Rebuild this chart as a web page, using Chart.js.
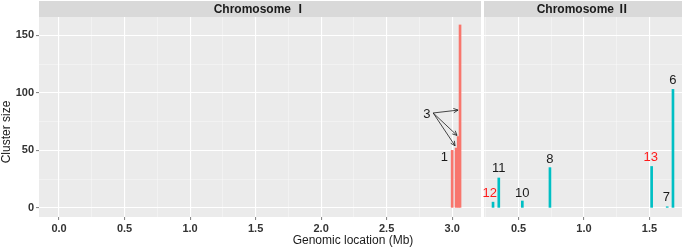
<!DOCTYPE html>
<html>
<head>
<meta charset="utf-8">
<script src="https://cdn.jsdelivr.net/npm/chart.js@4/dist/chart.umd.min.js"></script>
<style>
  body { margin: 0; background: #fff; }
  #wrap { position: relative; width: 685px; height: 249px; }
  canvas { position: absolute; top: 0; }
</style>
</head>
<body>
<div id="wrap">
  <canvas id="chr1Chart" width="482" height="249" style="left:0"></canvas>
  <canvas id="chr2Chart" width="203" height="249" style="left:482px"></canvas>
</div>
<script>
// chromosome I clusters (position in Mb, cluster size)
var chr1Pos = [3.00, 3.03, 3.046, 3.06];
var chr1Size = [50, 52, 62, 159];
// chromosome II clusters
var chr2Pos = [0.305, 0.349, 0.529, 0.740, 1.517, 1.636, 1.680];
var chr2Size = [5, 26, 6, 35, 36, 1, 103];

// cluster number labels (x in Mb, y in cluster size units)
var chr1Labels = ["1", "3"];
var chr1LabelX = [2.94, 2.806];
var chr1LabelY = [44, 81.5];
var chr1LabelColor = ["#1a1a1a", "#1a1a1a"];
var chr2Labels = ["12", "11", "10", "8", "13", "7", "6"];
var chr2LabelX = [0.28, 0.349, 0.529, 0.740, 1.510, 1.630, 1.680];
var chr2LabelY = [13, 34, 13, 42, 44, 9, 111];
var chr2LabelColor = ["#ff1a1a", "#1a1a1a", "#1a1a1a", "#1a1a1a", "#ff1a1a", "#1a1a1a", "#1a1a1a"];

// arrows from label "3" to its three bars
var arrowFrom = [2.855, 82.5];
var arrowToX = [3.045, 3.037, 3.022];
var arrowToY = [85, 63, 54];

var chr1Ticks = [0, 0.25, 0.5, 0.75, 1, 1.25, 1.5, 1.75, 2, 2.25, 2.5, 2.75, 3];
var chr2Ticks = [0.25, 0.5, 0.75, 1, 1.25, 1.5];
var yTicks = [0, 25, 50, 75, 100, 125, 150];

var red = "#F8766D";
var teal = "#00BFC4";
var FONT = "'Liberation Sans', Arial, 'Noto Sans CJK SC', sans-serif";

function isMajor(v, step) {
  return Math.abs(v / step - Math.round(v / step)) < 1e-6;
}

var panelPlugin = {
  id: "panel",
  beforeDraw: function(chart) {
    var a = chart.chartArea, ctx = chart.ctx;
    ctx.save();
    ctx.fillStyle = "#EBEBEB";
    ctx.fillRect(a.left, a.top, a.right - a.left, a.bottom - a.top);
    // strip
    ctx.fillStyle = "#D9D9D9";
    ctx.fillRect(a.left, 1, a.right - a.left, a.top - 1);
    ctx.fillStyle = "#1a1a1a";
    ctx.font = "bold 12px " + FONT;
    ctx.textAlign = "center";
    ctx.textBaseline = "middle";
    ctx.fillText(chart.options.plugins.panel.strip, (a.left + a.right) / 2, 9.5);
    ctx.restore();
  },
  afterDatasetsDraw: function(chart) {
    var o = chart.options.plugins.panel;
    var xs = chart.scales.x, ys = chart.scales.y, ctx = chart.ctx;
    ctx.save();
    ctx.font = "13px " + FONT;
    ctx.textAlign = "center";
    ctx.textBaseline = "middle";
    for (var i = 0; i < o.labels.length; i++) {
      ctx.fillStyle = o.labelColor[i];
      ctx.fillText(o.labels[i], xs.getPixelForValue(o.labelX[i]), ys.getPixelForValue(o.labelY[i]));
    }
    if (o.arrows) {
      ctx.strokeStyle = "#1a1a1a";
      ctx.lineWidth = 0.8;
      var x0 = xs.getPixelForValue(arrowFrom[0]), y0 = ys.getPixelForValue(arrowFrom[1]);
      for (var j = 0; j < arrowToX.length; j++) {
        var x1 = xs.getPixelForValue(arrowToX[j]), y1 = ys.getPixelForValue(arrowToY[j]);
        var ang = Math.atan2(y1 - y0, x1 - x0);
        ctx.beginPath();
        ctx.moveTo(x0, y0);
        ctx.lineTo(x1, y1);
        ctx.moveTo(x1 - 5 * Math.cos(ang - 0.45), y1 - 5 * Math.sin(ang - 0.45));
        ctx.lineTo(x1, y1);
        ctx.lineTo(x1 - 5 * Math.cos(ang + 0.45), y1 - 5 * Math.sin(ang + 0.45));
        ctx.stroke();
      }
    }
    if (o.titles) {
      ctx.fillStyle = "#1a1a1a";
      ctx.font = "12px " + FONT;
      ctx.fillText("Genomic location (Mb)", 353, 241);
      ctx.translate(7, 132);
      ctx.rotate(-Math.PI / 2);
      ctx.fillText("Cluster size", 0, 0);
    }
    ctx.restore();
  }
};

function makeChart(id, pos, size, color, xmin, xmax, xticks, showY, panelOpts, padding) {
  var pts = [];
  for (var i = 0; i < pos.length; i++) pts.push({ x: pos[i], y: size[i] });
  return new Chart(document.getElementById(id), {
    type: "bar",
    data: {
      datasets: [{
        data: pts,
        backgroundColor: color,
        barThickness: 2,
        borderWidth: 0
      }]
    },
    options: {
      responsive: false,
      animation: false,
      devicePixelRatio: 1,
      layout: { padding: padding },
      plugins: {
        legend: { display: false },
        tooltip: { enabled: false },
        panel: panelOpts
      },
      scales: {
        x: {
          type: "linear",
          min: xmin,
          max: xmax,
          offset: false,
          afterBuildTicks: function(s) { s.ticks = xticks.map(function(v) { return { value: v }; }); },
          afterFit: function(s) { s.height = 32; },
          border: { display: false },
          grid: {
            offset: false,
            color: function(c) { return c.tick && isMajor(c.tick.value, 0.5) ? "#ffffff" : "rgba(255,255,255,0.6)"; },
            lineWidth: function(c) { return c.tick && isMajor(c.tick.value, 0.5) ? 1.1 : 0.6; },
            tickColor: function(c) { return c.tick && isMajor(c.tick.value, 0.5) ? "#888" : "rgba(0,0,0,0)"; },
            tickLength: 3
          },
          ticks: {
            autoSkip: false,
            maxRotation: 0,
            padding: 2,
            color: "#333",
            font: { family: FONT, size: 11, weight: "bold" },
            callback: function(v) { return isMajor(v, 0.5) ? v.toFixed(1) : ""; }
          }
        },
        y: {
          min: -7.9,
          max: 165.9,
          afterBuildTicks: function(s) { s.ticks = yTicks.map(function(v) { return { value: v }; }); },
          afterFit: function(s) { s.width = showY ? 39 : 0; },
          border: { display: false },
          grid: {
            color: function(c) { return c.tick && isMajor(c.tick.value, 50) ? "#ffffff" : "rgba(255,255,255,0.6)"; },
            lineWidth: function(c) { return c.tick && isMajor(c.tick.value, 50) ? 1.1 : 0.6; },
            tickColor: function(c) { return c.tick && isMajor(c.tick.value, 50) ? "#888" : "rgba(0,0,0,0)"; },
            drawTicks: showY,
            tickLength: 3
          },
          ticks: {
            display: showY,
            padding: 2,
            color: "#333",
            font: { family: FONT, size: 11, weight: "bold" },
            callback: function(v) { return isMajor(v, 50) ? String(v) : ""; }
          }
        }
      }
    },
    plugins: [panelPlugin]
  });
}

var chr1Chart = makeChart("chr1Chart", chr1Pos, chr1Size, red, -0.153, 3.22, chr1Ticks, true, {
  strip: "Chromosome \u2160",
  labels: chr1Labels, labelX: chr1LabelX, labelY: chr1LabelY, labelColor: chr1LabelColor,
  arrows: true, titles: true
}, { top: 17, right: 1, left: 0, bottom: 0 });

var chr2Chart = makeChart("chr2Chart", chr2Pos, chr2Size, teal, 0.236, 1.749, chr2Ticks, false, {
  strip: "Chromosome \u2161",
  labels: chr2Labels, labelX: chr2LabelX, labelY: chr2LabelY, labelColor: chr2LabelColor,
  arrows: false, titles: false
}, { top: 17, right: 3, left: 2, bottom: 0 });
</script>
</body>
</html>
